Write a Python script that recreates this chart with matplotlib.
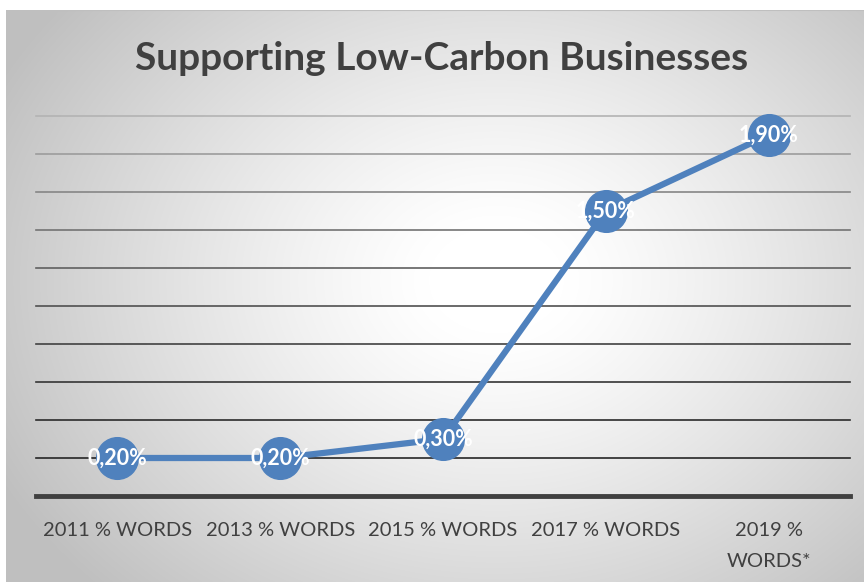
import matplotlib
matplotlib.use("Agg")
import matplotlib.pyplot as plt
import numpy as np

# data
categories = ["2011 % WORDS", "2013 % WORDS", "2015 % WORDS", "2017 % WORDS", "2019 %\nWORDS*"]
values = [0.20, 0.20, 0.30, 1.50, 1.90]
labels = ["0,20%", "0,20%", "0,30%", "1,50%", "1,90%"]
grid_levels = [0.2, 0.4, 0.6, 0.8, 1.0, 1.2, 1.4, 1.6, 1.8, 2.0]

plt.rcParams['font.family'] = ['Lato', 'DejaVu Sans']

fig = plt.figure(figsize=(8.64, 5.82), dpi=100)
fig.patch.set_facecolor("white")

# chart frame with radial gradient
W, H = 864, 582
x0, y0 = 6, 10
bg = fig.add_axes([x0 / W, 0, 1 - x0 / W, 1 - y0 / H])
bg.set_axis_off()
yy, xx = np.mgrid[0:572, 0:858]
cx, cy = 490, 270
r = np.sqrt(((xx - cx) / 560.0) ** 2 + ((yy - cy) / 440.0) ** 2)
r = np.clip((r - 0.12) / 0.88, 0, 1)
shade = 1.0 - 0.25 * r ** 1.2
bg.imshow(np.dstack([shade, shade, shade]), aspect="auto", extent=[0, 1, 0, 1])
bg.set_xlim(0, 1)
bg.set_ylim(0, 1)
bg.plot([0, 1], [1, 1], color="#bfbfbf", lw=1.5)

ax = fig.add_axes([36 / W, 1 - 496 / H, (850 - 36) / W, (496 - 116) / H])
ax.patch.set_alpha(0)
x = np.arange(len(values))
ax.set_xlim(-0.5, len(values) - 0.5)
ax.set_ylim(0, 2.0)

for i, g in enumerate(grid_levels):
    t = i / (len(grid_levels) - 1)
    c = 0.15 + 0.55 * t ** 1.5
    ax.axhline(g, color=(c, c, c), lw=1.2, zorder=1, clip_on=False)
ax.axhline(0, color="#404040", lw=3.5, zorder=2, clip_on=False)

ax.plot(x, values, color="#4f81bd", lw=4.5, marker="o", markersize=30,
        markerfacecolor="#4f81bd", markeredgecolor="#4f81bd", zorder=3, clip_on=False)
for xi, v, lab in zip(x, values, labels):
    ax.text(xi, v, lab, color="white", fontsize=15.5, fontweight="bold",
            ha="center", va="center", zorder=4)

for s in ax.spines.values():
    s.set_visible(False)
ax.set_yticks([])
ax.set_xticks(x)
ax.set_xticklabels(categories, fontsize=14.5, color="#404040", linespacing=1.95)
ax.tick_params(axis="x", length=0, pad=19)

fig.text(442 / W, 1 - 58 / H, "Supporting Low-Carbon Businesses", ha="center", va="center",
         fontsize=28, fontweight="bold", color="#404040")

fig.savefig("out.png", dpi=100)
